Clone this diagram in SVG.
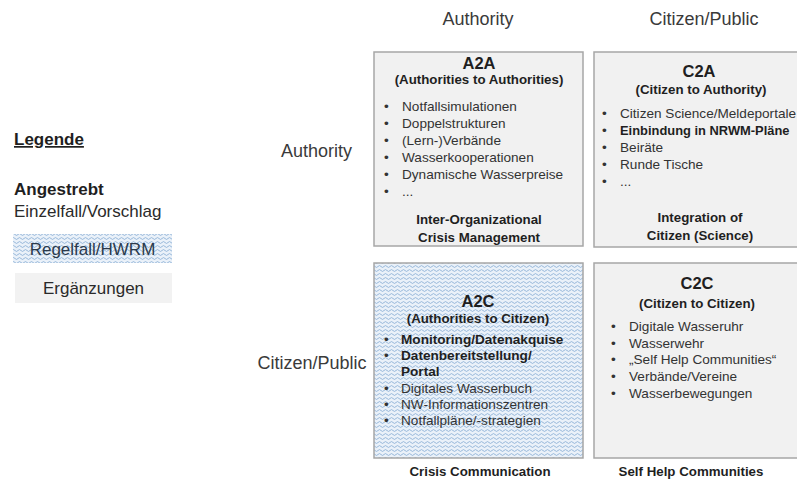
<svg xmlns="http://www.w3.org/2000/svg" width="797" height="481" viewBox="0 0 797 481">
<style>
text{font-family:"Liberation Sans",Arial,sans-serif;fill:#333333}
.hdr{font-size:18px;fill:#3a3a3a}
.leg{font-size:17px;fill:#2a2a2a}
.b{font-weight:bold;fill:#1f1f1f}
.ttl{font-size:16.5px;font-weight:bold;fill:#1f1f1f;text-anchor:middle}
.sub{font-size:13.3px;font-weight:bold;fill:#1f1f1f;text-anchor:middle}
.itm{font-size:13.6px;fill:#404040}
.box{fill:#f1f1f1;stroke:#a6a6a6;stroke-width:1.5}
.hbox{fill:url(#wave);stroke:#a6a6a6;stroke-width:1.5}
</style>
<defs>
<pattern id="wave" width="6" height="4" patternUnits="userSpaceOnUse">
<rect width="6" height="4" fill="#eaf1f9"/>
<path d="M0,2.5 Q1.5,0.6 3,2.5 T6,2.5" fill="none" stroke="#8fb1d6" stroke-width="0.9"/>
</pattern>
</defs>
<rect width="797" height="481" fill="#ffffff"/>

<g id="legend">
<text class="leg b" x="14" y="145" text-decoration="underline">Legende</text>
<text class="leg b" x="14" y="195">Angestrebt</text>
<text class="leg" x="14" y="217">Einzelfall/Vorschlag</text>
<rect x="13" y="234" width="159" height="29" fill="url(#wave)"/>
<text class="leg" x="92.5" y="255" text-anchor="middle" style="fill:#2b3a4c">Regelfall/HWRM</text>
<rect x="15" y="273" width="157" height="30" fill="#f2f2f2"/>
<text class="leg" x="93.5" y="294" text-anchor="middle">Ergänzungen</text>
</g>

<g id="column-headers">
<text class="hdr" x="478" y="25" text-anchor="middle">Authority</text>
<text class="hdr" x="704" y="25" text-anchor="middle">Citizen/Public</text>
</g>

<g id="row-labels">
<text class="hdr" x="316.5" y="157" text-anchor="middle">Authority</text>
<text class="hdr" x="312" y="369" text-anchor="middle">Citizen/Public</text>
</g>

<g id="node-a2a">
<rect class="box" x="374" y="52" width="209" height="194"/>
<text class="ttl" x="479" y="69">A2A</text>
<text class="sub" x="479" y="84">(Authorities to Authorities)</text>
<g class="itm">
<text x="384" y="111">•</text><text x="402" y="111">Notfallsimulationen</text>
<text x="384" y="128">•</text><text x="402" y="128">Doppelstrukturen</text>
<text x="384" y="145">•</text><text x="402" y="145">(Lern-)Verbände</text>
<text x="384" y="162">•</text><text x="402" y="162">Wasserkooperationen</text>
<text x="384" y="179">•</text><text x="402" y="179">Dynamische Wasserpreise</text>
<text x="384" y="196">•</text><text x="402" y="196">...</text>
</g>
<text class="sub" x="479" y="224">Inter-Organizational</text>
<text class="sub" x="479" y="242">Crisis Management</text>
</g>

<g id="node-c2a">
<rect class="box" x="594" y="52" width="209" height="195"/>
<text class="ttl" x="699" y="77">C2A</text>
<text class="sub" x="701" y="94">(Citizen to Authority)</text>
<g class="itm">
<text x="602" y="118">•</text><text x="620" y="118">Citizen Science/Meldeportale</text>
<text x="602" y="135">•</text><text class="b" x="620" y="135" style="font-size:12.9px">Einbindung in NRWM-Pläne</text>
<text x="602" y="152">•</text><text x="620" y="152">Beiräte</text>
<text x="602" y="169">•</text><text x="620" y="169">Runde Tische</text>
<text x="602" y="186">•</text><text x="620" y="186">...</text>
</g>
<text class="sub" x="700" y="222">Integration of</text>
<text class="sub" x="700" y="240">Citizen (Science)</text>
</g>

<g id="node-a2c">
<rect class="hbox" x="374" y="263" width="209" height="195"/>
<text class="ttl" x="478" y="307">A2C</text>
<text class="sub" x="478" y="323">(Authorities to Citizen)</text>
<g class="itm">
<text x="384" y="344">•</text><text class="b" x="401" y="344">Monitoring/Datenakquise</text>
<text x="384" y="360">•</text><text class="b" x="401" y="360">Datenbereitstellung/</text>
<text class="b" x="401" y="376">Portal</text>
<text x="384" y="393">•</text><text x="401" y="393">Digitales Wasserbuch</text>
<text x="384" y="409">•</text><text x="401" y="409">NW-Informationszentren</text>
<text x="384" y="425">•</text><text x="401" y="425">Notfallpläne/-strategien</text>
</g>
<text class="sub" x="480" y="476">Crisis Communication</text>
</g>

<g id="node-c2c">
<rect class="box" x="594" y="263" width="209" height="195"/>
<text class="ttl" x="697" y="289">C2C</text>
<text class="sub" x="697" y="308">(Citizen to Citizen)</text>
<g class="itm">
<text x="611" y="331">•</text><text x="629" y="331">Digitale Wasseruhr</text>
<text x="611" y="348">•</text><text x="629" y="348">Wasserwehr</text>
<text x="611" y="364">•</text><text x="629" y="364">„Self Help Communities“</text>
<text x="611" y="381">•</text><text x="629" y="381">Verbände/Vereine</text>
<text x="611" y="398">•</text><text x="629" y="398">Wasserbewegungen</text>
</g>
<text class="sub" x="691" y="476">Self Help Communities</text>
</g>

<g id="connectors"/>
</svg>
